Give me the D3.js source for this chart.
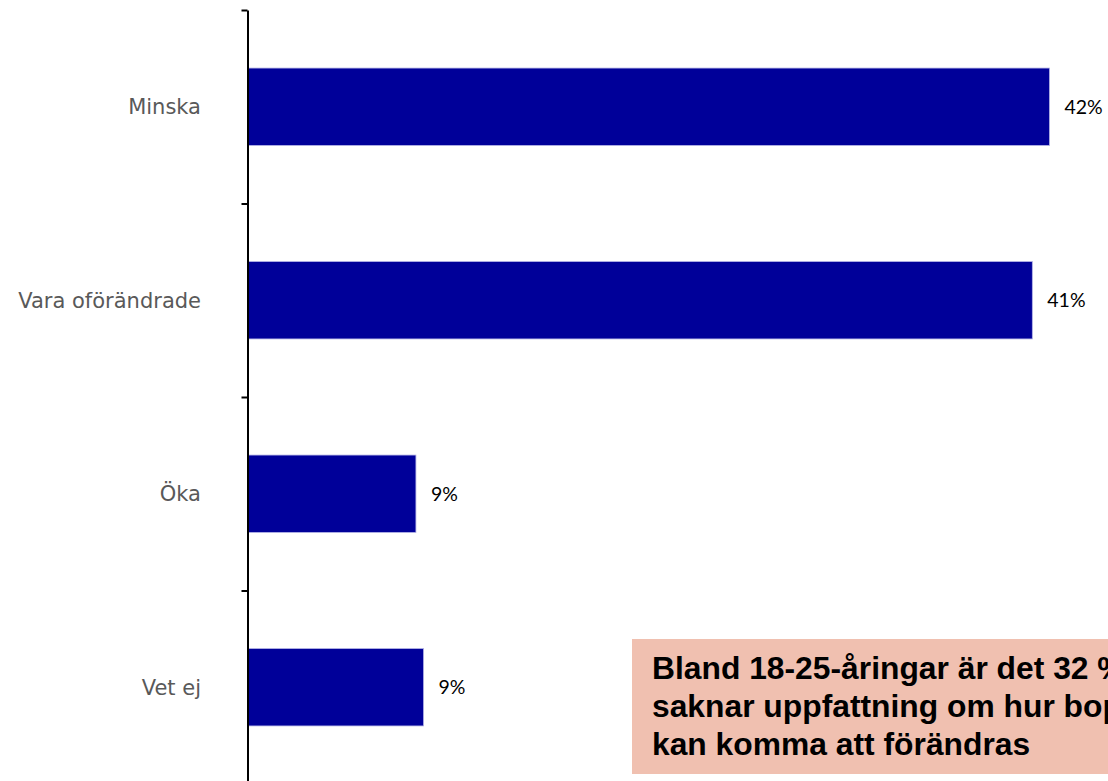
<!DOCTYPE html>
<html>
<head>
<meta charset="utf-8">
<script src="https://cdn.jsdelivr.net/npm/d3@7"></script>
<style>
  body { margin: 0; background: #fff; }
</style>
</head>
<body>
<div id="chart"></div>
<script>
// data
var categories = ["Minska", "Vara oförändrade", "Öka", "Vet ej"];
var values = [42.0, 41.1, 8.8, 9.2];
var valueLabels = ["42%", "41%", "9%", "9%"];
var noteLines = [
  "Bland 18-25-åringar är det 32 % som",
  "saknar uppfattning om hur bopriserna",
  "kan komma att förändras"
];

var width = 1108, height = 781;

var svg = d3.select("#chart")
  .append("svg")
  .attr("width", width)
  .attr("height", height);

// scales
var y = d3.scaleBand()
  .domain(categories)
  .range([10, 784])
  .paddingInner(0.6)
  .paddingOuter(0.3);

var x = d3.scaleLinear()
  .domain([0, 42])
  .range([248, 1049.5]);

// bars
svg.selectAll("rect.bar")
  .data(values)
  .enter()
  .append("rect")
  .attr("class", "bar")
  .attr("x", x(0))
  .attr("y", function (d, i) { return y(categories[i]); })
  .attr("width", function (d) { return x(d) - x(0); })
  .attr("height", y.bandwidth())
  .attr("fill", "#000099")
  .attr("stroke", "#b4b4e6")
  .attr("stroke-width", 0.8);

// value labels
svg.selectAll("text.val")
  .data(values)
  .enter()
  .append("text")
  .attr("class", "val")
  .attr("x", function (d) { return x(d) + 15; })
  .attr("y", function (d, i) { return y(categories[i]) + y.bandwidth() / 2; })
  .attr("dy", "0.35em")
  .style("font-family", "Lato, 'Open Sans', sans-serif")
  .style("font-size", "19.5px")
  .attr("fill", "#000")
  .text(function (d, i) { return valueLabels[i]; });

// category labels
svg.selectAll("text.cat")
  .data(categories)
  .enter()
  .append("text")
  .attr("class", "cat")
  .attr("x", 201)
  .attr("y", function (d) { return y(d) + y.bandwidth() / 2; })
  .attr("dy", "0.35em")
  .attr("text-anchor", "end")
  .style("font-family", "'DejaVu Sans', sans-serif")
  .style("font-size", "21px")
  .attr("fill", "#595959")
  .text(function (d) { return d; });

// axis with ticks on the band boundaries
var yTicks = d3.scaleLinear()
  .domain([0, categories.length])
  .range([y.range()[0], y.range()[1]]);

var axis = svg.append("g")
  .attr("transform", "translate(247.5,0)")
  .call(d3.axisLeft(yTicks)
    .ticks(categories.length)
    .tickSize(6)
    .tickSizeOuter(0)
    .tickFormat(""));
axis.select(".domain").attr("stroke", "#000").attr("stroke-width", 2);
axis.selectAll(".tick line").attr("stroke", "#000").attr("stroke-width", 2);

// note box
svg.append("rect")
  .attr("x", 632)
  .attr("y", 639)
  .attr("width", 520)
  .attr("height", 135)
  .attr("fill", "#f0c0b0");

svg.append("g")
  .selectAll("text")
  .data(noteLines)
  .enter()
  .append("text")
  .attr("x", 652)
  .attr("y", function (d, i) { return 679 + i * 38; })
  .style("font-family", "'Liberation Sans', Arial, sans-serif")
  .style("font-weight", "bold")
  .style("font-size", "31.8px")
  .attr("fill", "#000")
  .text(function (d) { return d; });
</script>
</body>
</html>
